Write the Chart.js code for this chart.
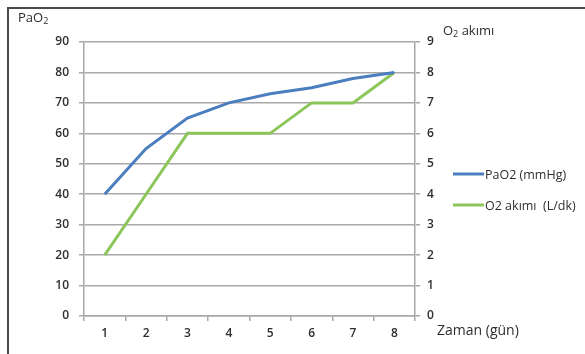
<html>
<head>
<title>PaO2 ve O2 akimi</title>
<script src="https://cdn.jsdelivr.net/npm/chart.js@4.4.1/dist/chart.umd.min.js"></script>
<style>
    body { margin: 0; background: #fff; }
    #wrap { position: relative; width: 585px; height: 354px; overflow: hidden; }
    #frame { position: absolute; left: 7px; top: 7px; width: 600px; height: 360px;
             border-left: 2px solid #4a4a4a; border-top: 2px solid #4a4a4a; }
    canvas { position: absolute; left: 0; top: 0; }
</style>
</head>
<body>
<div id="wrap">
    <div id="frame"></div>
    <canvas id="myChart" width="585" height="354"></canvas>
</div>

<script>
const DAYS = ["1", "2", "3", "4", "5", "6", "7", "8"];
const PAO2 = [40, 55, 65, 70, 73, 75, 78, 80];
const O2_FLOW = [2, 4, 6, 6, 6, 7, 7, 8];
const PAO2_TICKS = [0, 10, 20, 30, 40, 50, 60, 70, 80, 90];
const FLOW_TICKS = [0, 1, 2, 3, 4, 5, 6, 7, 8, 9];

const FONT = "'Open Sans'";
const GRID = "#a8a8a8";
const TEXT = "#2e2e2e";

// axis titles sit in odd places, so draw them by hand
var extraText = {
    id: "extraText",
    afterDraw: function(chart){
        let ctx = chart.ctx;
        ctx.save();
        ctx.fillStyle = TEXT;
        ctx.textBaseline = "middle";
        ctx.textAlign = "left";
        ctx.font = "13px " + FONT;
        ctx.fillText("PaO", 18, 18);
        let w = ctx.measureText("PaO").width;
        ctx.font = "9px " + FONT;
        ctx.fillText("2", 18 + w, 21);

        ctx.font = "13px " + FONT;
        ctx.fillText("O", 443, 31);
        w = ctx.measureText("O").width;
        ctx.font = "9px " + FONT;
        ctx.fillText("2", 443 + w, 34);
        let w2 = ctx.measureText("2").width;
        ctx.font = "13px " + FONT;
        ctx.fillText(" akımı", 443 + w + w2, 31);

        ctx.font = "14px " + FONT;
        ctx.fillText("Zaman (gün)", 437, 331);

        // legend
        let ys = [174, 205];
        chart.data.datasets.forEach(function(ds, i){
            ctx.strokeStyle = ds.borderColor;
            ctx.lineWidth = 3;
            ctx.beginPath();
            ctx.moveTo(453, ys[i]);
            ctx.lineTo(484, ys[i]);
            ctx.stroke();
            ctx.font = "12.5px " + FONT;
            ctx.fillStyle = TEXT;
            ctx.fillText(ds.label, 485, ys[i] + 1);
        });
        ctx.restore();
    }
};

new Chart("myChart", {
    type: "line",
    data: {
        labels: DAYS,
        datasets: [{
            label: "PaO2 (mmHg)",
            data: PAO2,
            yAxisID: "y",
            borderColor: "#4a7ebf",
            backgroundColor: "#4a7ebf",
            borderWidth: 3,
            pointRadius: 0,
            lineTension: 0,
            fill: false
        }, {
            label: "O2 akımı  (L/dk)",
            data: O2_FLOW,
            yAxisID: "y1",
            borderColor: "#8cc65a",
            backgroundColor: "#8cc65a",
            borderWidth: 3,
            pointRadius: 0,
            lineTension: 0,
            fill: false
        }]
    },
    options: {
        responsive: false,
        animation: false,
        layout: { padding: { top: 42, left: 0, right: 0, bottom: 0 } },
        plugins: {
            legend: { display: false },
            tooltip: { enabled: false }
        },
        scales: {
            x: {
                offset: true,
                grid: { display: true, drawOnChartArea: false, offset: true, color: GRID, lineWidth: 1.5, tickLength: 5 },
                border: { color: GRID, width: 1.5 },
                ticks: { color: TEXT, font: { family: FONT, size: 12, weight: "600" }, padding: 5, maxRotation: 0 },
                afterFit: function(s){ s.height = 38; }
            },
            y: {
                position: "left",
                min: 0, max: 90,
                afterBuildTicks: function(s){ s.ticks = PAO2_TICKS.map(v => ({ value: v })); },
                grid: { color: GRID, lineWidth: 1.5, tickLength: 5 },
                border: { color: GRID, width: 1.5 },
                ticks: { color: TEXT, font: { family: FONT, size: 12, weight: "600" }, padding: 10 },
                afterFit: function(s){ s.width = 84; }
            },
            y1: {
                position: "right",
                min: 0, max: 9,
                afterBuildTicks: function(s){ s.ticks = FLOW_TICKS.map(v => ({ value: v })); },
                grid: { drawOnChartArea: false, color: GRID, lineWidth: 1.5, tickLength: 5 },
                border: { color: GRID, width: 1.5 },
                ticks: { color: TEXT, font: { family: FONT, size: 12, weight: "600" }, padding: 7 },
                afterFit: function(s){ s.width = 170; }
            }
        }
    },
    plugins: [extraText]
});
</script>
</body>
</html>
